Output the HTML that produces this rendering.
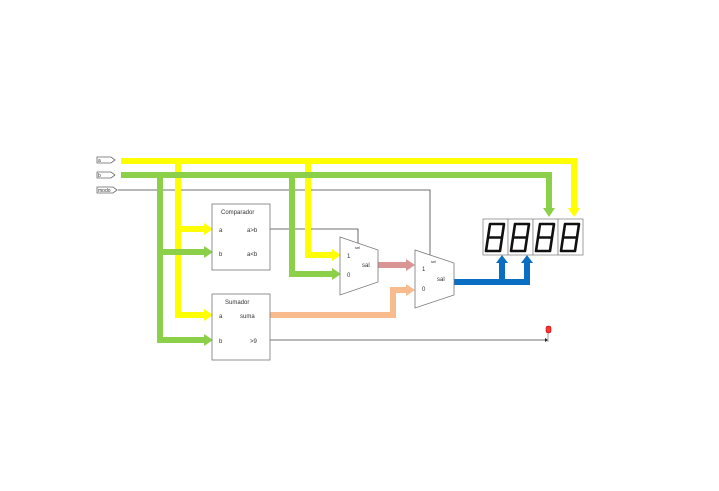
<!DOCTYPE html>
<html><head><style>body{margin:0;background:#fff}svg{display:block}text{font-family:"Liberation Sans",sans-serif}</style></head><body>
<svg width="719" height="491" viewBox="0 0 719 491" xmlns="http://www.w3.org/2000/svg">
<!-- inputs -->
<g fill="#fff" stroke="#666" stroke-width="0.8">
<path d="M97,157h14l4,3l-4,3h-14z"/>
<path d="M97,172h14l4,3l-4,3h-14z"/>
<path d="M97,187h16l4,3l-4,3h-16z"/>
</g>
<g font-size="5" fill="#333"><text x="98" y="162">a</text><text x="98" y="177">b</text><text x="98" y="192">modo</text></g>
<!-- thin lines -->
<g stroke="#444" stroke-width="0.8" fill="none">
<path d="M118,190H430V258"/>
<path d="M270,229H358V244"/>
<path d="M270,340H545"/>
</g>
<path d="M545,338l3,2l-3,2z" fill="#222"/>
<!-- yellow -->
<g stroke="#ffff00" stroke-width="6" fill="none">
<path d="M121,161H574V210"/>
<path d="M178,161V315H205"/>
<path d="M178,229H205"/>
<path d="M308,161V255H333"/>
</g>
<g fill="#ffff00">
<path d="M568,208h12l-6,9z"/>
<path d="M204,223v12l9,-6z"/><path d="M204,309v12l9,-6z"/><path d="M332,249v12l9,-6z"/>
</g>
<!-- green -->
<g stroke="#8cd04a" stroke-width="6" fill="none">
<path d="M121,175H549V210"/>
<path d="M160,175V340H205"/>
<path d="M160,252H205"/>
<path d="M292,175V274H333"/>
</g>
<g fill="#8cd04a">
<path d="M543,208h12l-6,9z"/>
<path d="M204,246v12l9,-6z"/><path d="M204,334v12l9,-6z"/><path d="M332,268v12l9,-6z"/>
</g>
<!-- pink -->
<path d="M378,265H408" stroke="#d99594" stroke-width="6"/>
<path d="M406,259v12l9,-6z" fill="#d99594"/>
<!-- orange -->
<path d="M270,315H393V290H408" stroke="#f8bb8d" stroke-width="6" fill="none"/>
<path d="M406,284v12l9,-6z" fill="#f8bb8d"/>
<!-- blue -->
<path d="M454,282H527V262M502,282V262" stroke="#0a6fc2" stroke-width="6" fill="none"/>
<path d="M496,263h12l-6,-8z M521,263h12l-6,-8z" fill="#0a6fc2"/>
<!-- blocks -->
<g fill="#fff" stroke="#777" stroke-width="0.8">
<rect x="212" y="204" width="58" height="66"/>
<rect x="212" y="294" width="58" height="66"/>
<path d="M340,237L378,250V282L340,295z"/>
<path d="M415,250L454,263V295L415,308z"/>
</g>
<g font-size="6" fill="#333">
<text x="221" y="214">Comparador</text>
<text x="219" y="232">a</text><text x="247" y="232">a&gt;b</text>
<text x="219" y="256">b</text><text x="247" y="256">a&lt;b</text>
<text x="225" y="304">Sumador</text>
<text x="219" y="318">a</text><text x="240" y="318">suma</text>
<text x="219" y="343">b</text><text x="250" y="343">&gt;9</text>
<text x="347" y="258">1</text><text x="347" y="277">0</text><text x="362" y="267">sal</text>
<text x="422" y="271">1</text><text x="422" y="291">0</text><text x="437" y="281">sal</text>
<text x="355" y="249" font-size="4">sel</text><text x="431" y="263" font-size="4">sel</text>
</g>
<!-- display -->
<g fill="#fff" stroke="#888" stroke-width="0.8">
<rect x="483" y="219" width="25" height="36"/><rect x="508" y="219" width="25" height="36"/><rect x="533" y="219" width="25" height="36"/><rect x="558" y="219" width="25" height="36"/>
</g>
<g fill="none" stroke="#111" stroke-width="2.6" stroke-linejoin="round">
<path d="M490,224h14l-2,13.5h-14z M488,237.5h14l-2,13.5h-14z"/>
<path d="M515,224h14l-2,13.5h-14z M513,237.5h14l-2,13.5h-14z"/>
<path d="M540,224h14l-2,13.5h-14z M538,237.5h14l-2,13.5h-14z"/>
<path d="M565,224h14l-2,13.5h-14z M563,237.5h14l-2,13.5h-14z"/>
</g>
<!-- LED -->
<rect x="546" y="326" width="5" height="7" rx="2" fill="#f33" stroke="#a00" stroke-width="0.5"/>
<path d="M548,333V342" stroke="#888" stroke-width="0.8"/>
</svg>
</body></html>
